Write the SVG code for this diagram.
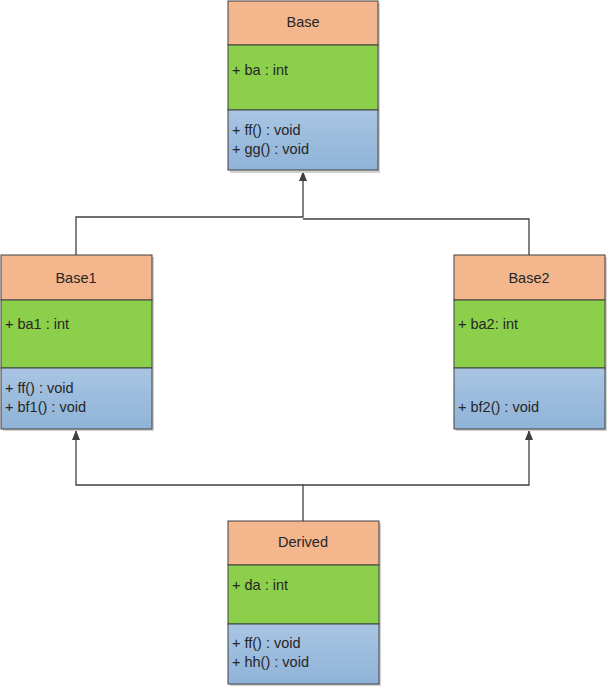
<svg xmlns="http://www.w3.org/2000/svg" width="608" height="687" viewBox="0 0 608 687">
<style>
.hd{fill:#F4B68C;stroke:#404040;stroke-width:1}
.at{fill:#8CCF4A;stroke:#404040;stroke-width:1}
.op{fill:url(#blue);stroke:#404040;stroke-width:1}
.t{font-family:"Liberation Sans",Arial,sans-serif;font-size:14.5px;fill:#262626}
.c{text-anchor:middle}
.ln{fill:none;stroke:#404040;stroke-width:1.3}
.sh{fill:#d0d0d0}
</style>
<defs>
<linearGradient id="blue" x1="0" y1="0" x2="0" y2="1">
<stop offset="0" stop-color="#A9C5E2"/>
<stop offset="1" stop-color="#8FB3D8"/>
</linearGradient>
<marker id="arr" markerWidth="10" markerHeight="10" refX="9" refY="5" orient="auto" markerUnits="userSpaceOnUse">
<path d="M0,1 L10,5 L0,9 z" fill="#404040"/>
</marker>
</defs>
<rect width="608" height="687" fill="#ffffff"/>
<g id="connectors">
<path class="ln" d="M76,255 V217 H303 V172" marker-end="url(#arr)"/>
<path class="ln" d="M529,255 V219 H303"/>
<path class="ln" d="M303,521 V485 H76 V431" marker-end="url(#arr)"/>
<path class="ln" d="M303,485 H529 V431" marker-end="url(#arr)"/>
</g>
<g id="Base">
<rect class="sh" x="230" y="3" width="150" height="170"/>
<rect class="hd" x="228" y="1" width="150" height="44"/>
<rect class="at" x="228" y="45" width="150" height="65"/>
<rect class="op" x="228" y="110" width="150" height="60"/>
<text class="t c" x="303" y="27">Base</text>
<text class="t" x="232" y="75">+ ba : int</text>
<text class="t" x="232" y="135">+ ff() : void</text>
<text class="t" x="232" y="154">+ gg() : void</text>
</g>
<g id="Base1">
<rect class="sh" x="3" y="257" width="151" height="174"/>
<rect class="hd" x="1" y="255" width="151" height="45"/>
<rect class="at" x="1" y="300" width="151" height="68"/>
<rect class="op" x="1" y="368" width="151" height="61"/>
<text class="t c" x="76" y="283">Base1</text>
<text class="t" x="5" y="329">+ ba1 : int</text>
<text class="t" x="5" y="393">+ ff() : void</text>
<text class="t" x="5" y="412">+ bf1() : void</text>
</g>
<g id="Base2">
<rect class="sh" x="456" y="257" width="151" height="174"/>
<rect class="hd" x="454" y="255" width="151" height="45"/>
<rect class="at" x="454" y="300" width="151" height="68"/>
<rect class="op" x="454" y="368" width="151" height="61"/>
<text class="t c" x="529" y="283">Base2</text>
<text class="t" x="458" y="329">+ ba2: int</text>
<text class="t" x="458" y="412">+ bf2() : void</text>
</g>
<g id="Derived">
<rect class="sh" x="230" y="523" width="151" height="163"/>
<rect class="hd" x="228" y="521" width="151" height="44"/>
<rect class="at" x="228" y="565" width="151" height="59"/>
<rect class="op" x="228" y="624" width="151" height="60"/>
<text class="t c" x="303" y="547">Derived</text>
<text class="t" x="232" y="590">+ da : int</text>
<text class="t" x="232" y="648">+ ff() : void</text>
<text class="t" x="232" y="667">+ hh() : void</text>
</g>
</svg>
